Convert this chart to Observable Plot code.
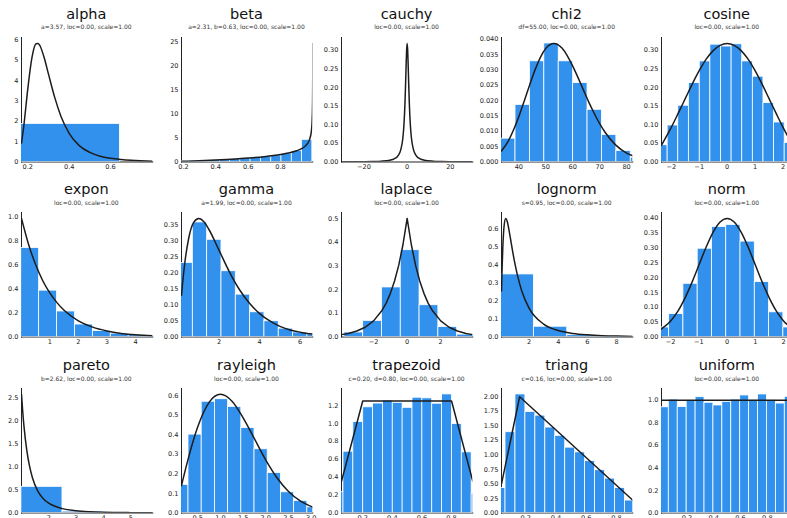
<!DOCTYPE html>
<html><head><meta charset="utf-8">
<script src="https://cdn.jsdelivr.net/npm/d3@7"></script>
<script src="https://cdn.jsdelivr.net/npm/@observablehq/plot@0.6"></script>
<style>
body{margin:0;background:#fff;}
#fig{position:relative;width:787px;height:518px;overflow:hidden;background:#fff;font-family:"DejaVu Sans",sans-serif;}
</style></head>
<body><div id="fig"></div>
<script>
const names = ["alpha","beta","cauchy","chi2","cosine","expon","gamma","laplace","lognorm","norm","pareto","rayleigh","trapezoid","triang","uniform"];
const subtitles = ["a=3.57, loc=0.00, scale=1.00","a=2.31, b=0.63, loc=0.00, scale=1.00","loc=0.00, scale=1.00","df=55.00, loc=0.00, scale=1.00","loc=0.00, scale=1.00",
 "loc=0.00, scale=1.00","a=1.99, loc=0.00, scale=1.00","loc=0.00, scale=1.00","s=0.95, loc=0.00, scale=1.00","loc=0.00, scale=1.00",
 "b=2.62, loc=0.00, scale=1.00","loc=0.00, scale=1.00","c=0.20, d=0.80, loc=0.00, scale=1.00","c=0.16, loc=0.00, scale=1.00","loc=0.00, scale=1.00"];
const xDomains = [[0.1696,0.804],[0.188,0.99976],[-30.4,30.4],[33.55,82.3],[-2.35,2.35],
 [0.01,4.605],[0.147,6.62],[-3.912,3.912],[0.1097,9.115],[-2.326,2.326],
 [1.0038,5.80],[0.1418,3.035],[0.0566,0.9434],[0.04,0.9083],[0.01,0.99]];
const yMax = [6.11,25.85,0.3342,0.04055,0.3342, 1.0395,0.388,0.525,0.6924,0.4189, 2.713,0.6368,1.39,2.142,1.1036];
const xTicks = [[0.2,0.4,0.6],[0.2,0.4,0.6,0.8],[-20,0,20],[40,50,60,70,80],[-2,-1,0,1,2],
 [1,2,3,4],[2,4,6],[-2,0,2],[2,4,6,8],[-2,-1,0,1,2],
 [2,3,4,5],[0.5,1.0,1.5,2.0,2.5,3.0],[0.2,0.4,0.6,0.8],[0.2,0.4,0.6,0.8],[0.2,0.4,0.6,0.8]];
const xDecimals = [1,1,0,0,0, 0,0,0,0,0, 0,1,1,1,1];
const yTicks = [[0,1,2,3,4,5,6],[0,5,10,15,20,25],[0,0.05,0.10,0.15,0.20,0.25,0.30],[0,0.005,0.010,0.015,0.020,0.025,0.030,0.035,0.040],[0,0.05,0.10,0.15,0.20,0.25,0.30],
 [0,0.2,0.4,0.6,0.8,1.0],[0,0.05,0.10,0.15,0.20,0.25,0.30,0.35],[0,0.1,0.2,0.3,0.4,0.5],[0,0.1,0.2,0.3,0.4,0.5,0.6],[0,0.05,0.10,0.15,0.20,0.25,0.30,0.35,0.40],
 [0,0.5,1.0,1.5,2.0,2.5],[0,0.1,0.2,0.3,0.4,0.5,0.6],[0,0.2,0.4,0.6,0.8,1.0,1.2],[0,0.25,0.5,0.75,1.0,1.25,1.5,1.75,2.0],[0,0.2,0.4,0.6,0.8,1.0]];
const yDecimals = [0,0,2,3,2, 1,2,1,1,2, 1,1,1,2,1];
const binEdges = [
 [0.10,0.645],
 [0.170,0.234,0.297,0.361,0.425,0.488,0.552,0.615,0.679,0.743,0.806,0.870,0.933,0.997],
 [],
 [33.4,38.75,44.1,49.45,54.8,60.15,65.5,70.85,76.2,81.55,86.9],
 [-2.51,-2.13,-1.75,-1.37,-0.98,-0.60,-0.22,0.16,0.54,0.92,1.30,1.68,2.06,2.44],
 [0,0.627,1.254,1.881,2.508,3.135,3.762,4.389,5.016],
 [0,0.706,1.412,2.118,2.824,3.53,4.236,4.942,5.648,6.354,7.06],
 [-3.74,-2.62,-1.50,-0.38,0.74,1.86,2.98,4.10],
 [0.04,2.33,4.62,6.91,9.2],
 [-2.562,-2.056,-1.55,-1.044,-0.538,-0.032,0.474,0.98,1.486,1.992,2.498],
 [1.0,2.5,4.0],
 [0.005,0.296,0.587,0.878,1.169,1.46,1.751,2.042,2.333,2.624,2.915,3.206],
 [0.0034,0.070,0.1366,0.2032,0.2698,0.3364,0.403,0.4696,0.5362,0.6028,0.6694,0.736,0.8026,0.8692,0.9358,1.0024],
 [0.0007,0.0665,0.1323,0.1981,0.2639,0.3297,0.3955,0.4613,0.5271,0.5929,0.6587,0.7245,0.7903,0.8561,0.9219],
 [-0.002,0.0646,0.1312,0.1978,0.2644,0.331,0.3976,0.4642,0.5308,0.5974,0.664,0.7306,0.7972,0.8638,0.9304,0.997]];
const binHeights = [
 [1.87],
 [0.17,0.24,0.33,0.42,0.52,0.65,0.78,0.95,1.15,1.35,1.75,2.3,4.6],
 [],
 [0.0076,0.0186,0.0328,0.0386,0.0328,0.0257,0.0170,0.0088,0.0036,0.0014],
 [0.045,0.098,0.151,0.212,0.270,0.315,0.310,0.316,0.270,0.229,0.158,0.106,0.051],
 [0.743,0.387,0.213,0.104,0.05,0.028,0.015,0.008],
 [0.231,0.357,0.303,0.205,0.132,0.077,0.049,0.026,0.014,0.008],
 [0.019,0.068,0.209,0.366,0.134,0.042,0.010],
 [0.348,0.057,0.010,0.004],
 [0.032,0.077,0.179,0.297,0.370,0.377,0.321,0.185,0.083,0.032],
 [0.57,0.03],
 [0.144,0.401,0.569,0.582,0.543,0.435,0.326,0.204,0.106,0.062,0.029],
 [0.232,0.684,1.016,1.18,1.222,1.256,1.23,1.174,1.287,1.28,1.22,1.324,0.993,0.677,0.214],
 [0.428,1.39,2.04,1.74,1.675,1.47,1.327,1.124,1.043,0.892,0.736,0.591,0.428,0.214],
 [0.937,1.005,0.94,0.995,1.027,0.977,0.953,0.985,1.005,1.042,1.0,1.051,1.0,0.970,1.03]];
const curveX = [
 [0.1696,0.18,0.2,0.22,0.24,0.25,0.26,0.28,0.30,0.33,0.36,0.40,0.45,0.50,0.55,0.60,0.65,0.70,0.804],
 [0.188,0.2,0.3,0.4,0.5,0.6,0.7,0.8,0.85,0.9,0.93,0.95,0.96,0.97,0.98,0.99,0.995,0.998,0.999,0.9995,0.99976],
 [-30.4,-25,-20,-16,-12,-8,-6,-4,-3,-2,-1.5,-1,-0.75,-0.5,-0.25,0,0.25,0.5,0.75,1,1.5,2,3,4,6,8,12,16,20,25,30.4],
 [33.55,36,38,40,42,44,46,48,50,53,56,58,60,62,64,66,68,70,72,76,80,82.3],
 [-2.35,-2.15,-2,-1.75,-1.5,-1.25,-1,-0.75,-0.5,-0.25,0,0.25,0.5,0.75,1,1.25,1.5,1.75,2,2.15,2.35],
 [0.01,0.25,0.5,0.75,1,1.25,1.5,2,2.5,3,3.5,4,4.605],
 [0.147,0.2,0.3,0.5,0.75,1,1.25,1.5,2,2.5,3,3.5,4,4.5,5,5.5,6,6.62],
 [-3.912,-3.5,-3,-2.5,-2,-1.5,-1.25,-1,-0.75,-0.5,-0.25,0,0.25,0.5,0.75,1,1.25,1.5,2,2.5,3,3.5,3.912],
 [0.1097,0.15,0.2,0.25,0.3,0.4,0.5,0.6,0.7,1,1.2,1.5,2,3,4,5,6,7,8,9.115],
 [-2.326,-2,-1.75,-1.5,-1.25,-1,-0.75,-0.5,-0.25,0,0.25,0.5,0.75,1,1.25,1.5,1.75,2,2.326],
 [1.0038,1.05,1.1,1.2,1.3,1.4,1.6,1.8,2,2.5,3,3.5,4,5,5.8],
 [0.1418,0.25,0.5,0.75,1,1.25,1.5,1.75,2,2.25,2.5,2.75,3.035],
 [0.0566,0.2,0.8,0.9434],
 [0.04,0.16,0.9083],
 [0.01,0.99]];
const curveY = [
 [0.93,1.71,3.59,5.12,5.80,5.82,5.68,5.09,4.31,3.17,2.25,1.41,0.79,0.47,0.28,0.18,0.12,0.08,0.04],
 [0.13,0.15,0.27,0.41,0.59,0.82,1.11,1.54,1.85,2.32,2.76,3.21,3.54,3.99,4.70,6.15,8.0,11.3,14.6,18.9,24.6],
 [0.00034,0.00051,0.00079,0.00124,0.0022,0.0049,0.0086,0.0187,0.0318,0.0637,0.0979,0.1592,0.2037,0.2546,0.2996,0.3183,0.2996,0.2546,0.2037,0.1592,0.0979,0.0637,0.0318,0.0187,0.0086,0.0049,0.0022,0.00124,0.00079,0.00051,0.00034],
 [0.0036,0.0067,0.0104,0.0148,0.0199,0.0251,0.0300,0.0341,0.0370,0.0386,0.0371,0.0346,0.0312,0.0274,0.0234,0.0194,0.0158,0.0125,0.0097,0.0055,0.0029,0.0020],
 [0.045,0.072,0.093,0.131,0.170,0.209,0.245,0.276,0.299,0.313,0.318,0.313,0.299,0.276,0.245,0.209,0.170,0.131,0.093,0.072,0.045],
 [0.990,0.779,0.607,0.472,0.368,0.287,0.223,0.135,0.082,0.050,0.030,0.018,0.010],
 [0.130,0.167,0.226,0.307,0.357,0.369,0.359,0.335,0.270,0.204,0.148,0.105,0.073,0.050,0.033,0.022,0.015,0.009],
 [0.010,0.015,0.025,0.041,0.068,0.112,0.143,0.184,0.236,0.303,0.389,0.5,0.389,0.303,0.236,0.184,0.143,0.112,0.068,0.041,0.025,0.015,0.010],
 [0.256,0.381,0.500,0.579,0.627,0.659,0.644,0.606,0.559,0.420,0.344,0.256,0.161,0.072,0.036,0.020,0.012,0.0074,0.0048,0.0031],
 [0.027,0.054,0.086,0.130,0.183,0.242,0.301,0.352,0.387,0.399,0.387,0.352,0.301,0.242,0.183,0.130,0.086,0.054,0.027],
 [2.584,2.196,1.855,1.354,1.014,0.775,0.478,0.312,0.213,0.095,0.049,0.028,0.0173,0.0077,0.0045],
 [0.140,0.242,0.441,0.566,0.607,0.573,0.487,0.379,0.271,0.179,0.110,0.063,0.030],
 [0.354,1.25,1.25,0.354],
 [0.5,2.0,0.218],
 [1.0,1.0]];
const curveTypes = ["monotone-x","monotone-x","monotone-x","monotone-x","monotone-x","monotone-x","monotone-x","linear","monotone-x","monotone-x","monotone-x","monotone-x","linear","linear","linear"];

const BLUE = "#3391ee", INK = "#1c1c1c";
const L0 = 20.7, DX = 160.1, T0 = 36.8, DY = 175.6, PW = 131.3, PH = 124.5;
const ML = 34, MR = 6, MT = 4, MB = 16;
const fig = document.getElementById("fig");
const minus = s => s.replace(/-/g, "\u2212");

const over = d3.create("svg").attr("width", 787).attr("height", 518)
  .style("position", "absolute").style("left", "0px").style("top", "0px").style("pointer-events", "none");

names.forEach((name, i) => {
  const r = Math.floor(i / 5), c = i % 5;
  const left = L0 + DX * c, top = T0 + DY * r;
  const bars = binHeights[i].map((h, k) => ({x1: binEdges[i][k], x2: binEdges[i][k + 1], y1: 0, y2: h}));
  const pts = curveX[i].map((x, k) => ({x, y: curveY[i][k]}));
  const chart = Plot.plot({
    width: PW + ML + MR, height: PH + MT + MB,
    marginLeft: ML, marginRight: MR, marginTop: MT, marginBottom: MB,
    style: {fontFamily: "DejaVu Sans, sans-serif", fontSize: "6.6px", color: "#222", background: "transparent", overflow: "visible"},
    x: {domain: xDomains[i], ticks: xTicks[i], tickSize: 0, tickPadding: 2.5, line: true, label: null,
        tickFormat: d => minus(d.toFixed(xDecimals[i]))},
    y: {domain: [0, yMax[i]], ticks: yTicks[i], tickSize: 0, tickPadding: 3, line: true, label: null,
        tickFormat: d => minus(d.toFixed(yDecimals[i]))},
    marks: [
      Plot.rect(bars, {x1: "x1", x2: "x2", y1: "y1", y2: "y2", fill: BLUE, stroke: "white", strokeWidth: 0.8, clip: true}),
      Plot.line(pts, {x: "x", y: "y", curve: curveTypes[i], stroke: INK, strokeWidth: 1.5, clip: true})
    ]
  });
  chart.style.position = "absolute";
  chart.style.left = (left - ML) + "px";
  chart.style.top = (top - MT) + "px";
  chart.style.maxWidth = "none";
  fig.appendChild(chart);

  over.append("text").attr("x", left + PW / 2).attr("y", top - 18.3).attr("text-anchor", "middle")
    .attr("font-family", "DejaVu Sans, sans-serif").attr("font-size", 14.5).attr("fill", "#111").text(name);
  over.append("text").attr("x", left + PW / 2).attr("y", top - 7.5).attr("text-anchor", "middle")
    .attr("font-family", "DejaVu Sans, sans-serif").attr("font-size", 6).attr("fill", "#333").text(subtitles[i]);
});
fig.appendChild(over.node());
</script>
</body></html>
